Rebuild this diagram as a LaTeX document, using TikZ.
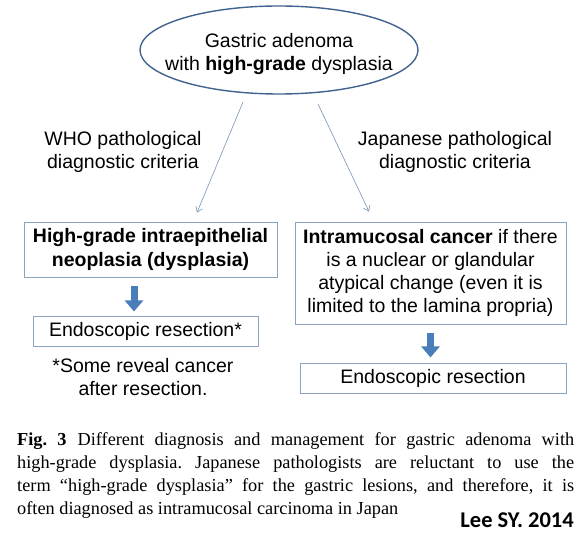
\documentclass[tikz,border=0pt]{standalone}
\usepackage{fontspec}
\setmainfont{Liberation Serif}
\newfontfamily\diagfont{Liberation Sans}
\newfontfamily\citefont{Carlito}
\usetikzlibrary{arrows.meta,calc,positioning,shapes.geometric}
\definecolor{rimblue}{HTML}{41638F}
\definecolor{boxblue}{HTML}{8CA3C2}
\definecolor{lineblue}{HTML}{7892B8}
\definecolor{fatblue}{HTML}{4A7EBB}
\frenchspacing

\begin{document}
\begin{tikzpicture}[x=1pt,y=-1pt,
    every node/.style={font=\diagfont\fontsize{19.5}{23.3}\selectfont,align=center,inner sep=0pt},
    box/.style={draw=boxblue,line width=0.9pt},
    thinarrow/.style={-{Straight Barb[length=5pt,width=7pt]},draw=lineblue,line width=0.6pt},
    fatarrow/.style={-{Triangle[length=11pt,width=18pt]},draw=fatblue,line width=7pt}
]
\useasboundingbox (0,0) rectangle (581,537);
\fill[white] (0,0) rectangle (581,537);

% top ellipse
\coordinate (rim) at (279,50);
\draw[rimblue,line width=1.4pt] (rim) ellipse [x radius=139pt, y radius=44pt];
\node (top) at (279,54) {Gastric adenoma\\with \textbf{high-grade} dysplasia};

\node (whoLbl) at (123,152) {WHO pathological\\diagnostic criteria};
\node (jpnLbl) at (455,152) {Japanese pathological\\diagnostic criteria};

\node[box,minimum width=253pt,minimum height=55pt] (who) at (150.5,249.5) {\textbf{High-grade intraepithelial}\\\textbf{neoplasia (dysplasia)}};
\node[box,minimum width=271pt,minimum height=102pt] (jpn) at (430.5,273) {\textbf{Intramucosal cancer} if there\\is a nuclear or glandular\\atypical change (even it is\\limited to the lamina propria)};

\node[box,minimum width=225pt,minimum height=30pt,below=39pt of who,xshift=-5pt] (resL) {Endoscopic resection*};
\node[box,minimum width=266pt,minimum height=30pt,below=39pt of jpn,xshift=2.5pt] (resR) {Endoscopic resection};
\node (note) at (143,377) {*Some reveal cancer\\after resection.};

% criteria arrows
\draw[thinarrow] ($(rim)+(-36,52)$) -- ($(who.north)+(46.5,-9)$);
\draw[thinarrow] ($(rim)+(39,54)$) -- ($(jpn.north)+(-61.5,-10)$);

% management arrows
\coordinate (fl) at ($(who.south)+(-16.5,0)$);
\draw[fatarrow,shorten <=9pt,shorten >=5pt] (fl) -- (fl |- resL.north);
\draw[fatarrow,shorten <=9pt,shorten >=6pt] (jpn.south) -- (jpn.south |- resR.north);

\node[anchor=north west,text width=557pt,align=justify,font=\rmfamily\fontsize{18.3}{23.3}\selectfont] (cap) at (17,432)
  {\textbf{Fig.~3}\hspace{0.6em}Different diagnosis and management for gastric adenoma with\linebreak
   high-grade dysplasia. Japanese pathologists are reluctant to use the\linebreak
   term ``high-grade dysplasia'' for the gastric lesions, and therefore, it is\linebreak
   often diagnosed as intramucosal carcinoma in Japan};
\node[anchor=base east,font=\citefont\bfseries\fontsize{22.5}{26}\selectfont] (cite) at (574,527) {Lee SY. 2014};
\end{tikzpicture}
\end{document}
